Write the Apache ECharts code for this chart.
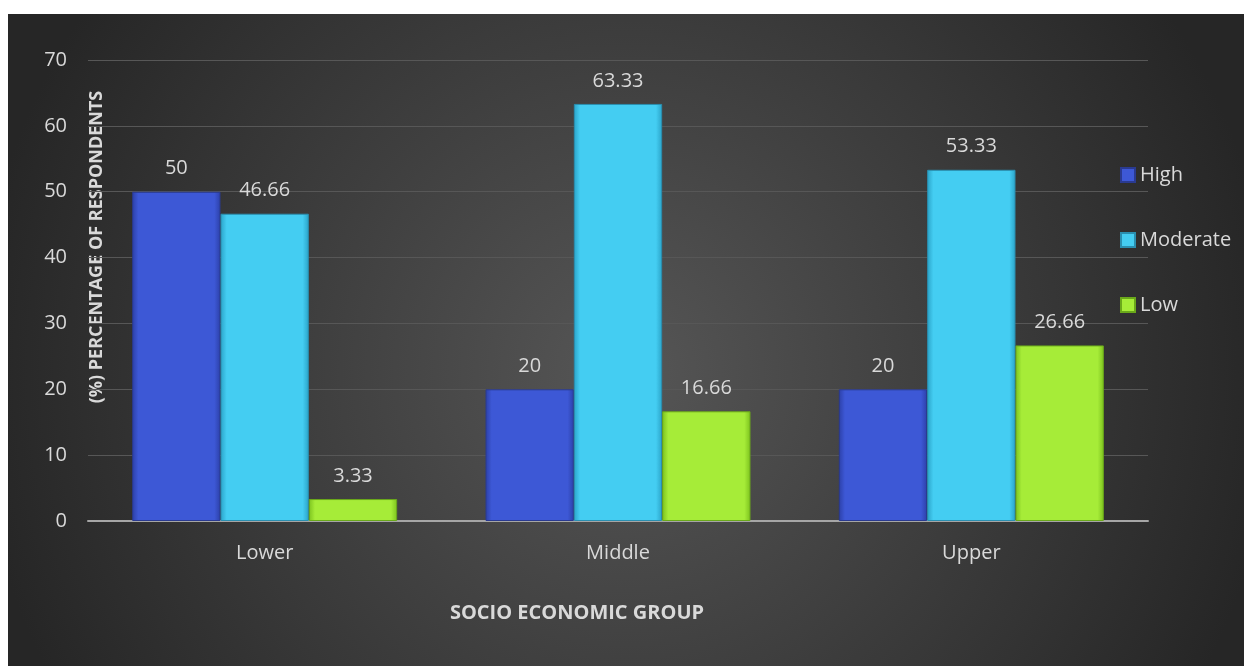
<!DOCTYPE html>
<html>
<head>
<meta charset="utf-8">
<script src="https://cdn.jsdelivr.net/npm/echarts@6/dist/echarts.min.js"></script>
<style>
    html, body { margin: 0; padding: 0; background: #fff; }
    #chart { position: absolute; left: 8px; top: 14px; width: 1236px; height: 652px; }
</style>
</head>
<body>
<div id="chart"></div>
<script>
var categories = ['Lower', 'Middle', 'Upper'];
var highData = [50, 20, 20];
var moderateData = [46.66, 63.33, 53.33];
var lowData = [3.33, 16.66, 26.66];

var FONT = '"Open Sans", "DejaVu Sans", sans-serif';
var TEXT = '#d9d9d9';

// bevel-ish look: darker edges, flat middle
function barColor(edge, mid) {
    return new echarts.graphic.LinearGradient(0, 0, 1, 0, [
        { offset: 0, color: edge },
        { offset: 0.07, color: mid },
        { offset: 0.93, color: mid },
        { offset: 1, color: edge }
    ]);
}

function makeSeries(name, data, edge, mid, border) {
    return {
        name: name,
        type: 'bar',
        barGap: '0%',
        barCategoryGap: '25%',
        data: data,
        itemStyle: {
            color: barColor(edge, mid),
            borderColor: border,
            borderWidth: 1
        },
        label: {
            show: true,
            position: 'top',
            distance: 13,
            color: TEXT,
            fontSize: 20,
            fontFamily: FONT
        }
    };
}

var myChart = echarts.init(document.getElementById('chart'));

var option = {
    backgroundColor: new echarts.graphic.RadialGradient(0.5, 0.55, 1.0, [
        { offset: 0, color: '#565656' },
        { offset: 1, color: '#262626' }
    ]),
    animation: false,
    grid: {
        left: 80,
        right: 96,
        top: 46,
        bottom: 145
    },
    legend: {
        orient: 'vertical',
        left: 1107,
        top: 146,
        itemWidth: 14,
        itemHeight: 14,
        itemGap: 45,
        icon: 'rect',
        textStyle: {
            color: TEXT,
            fontSize: 20,
            fontFamily: FONT
        },
        data: ['High', 'Moderate', 'Low']
    },
    xAxis: {
        type: 'category',
        data: categories,
        axisTick: { show: false },
        axisLine: { lineStyle: { color: '#a6a6a6', width: 2 } },
        axisLabel: {
            color: TEXT,
            fontSize: 20,
            fontFamily: FONT,
            margin: 22
        }
    },
    yAxis: {
        type: 'value',
        min: 0,
        max: 70,
        interval: 10,
        axisLine: { show: false },
        axisTick: { show: false },
        axisLabel: {
            color: TEXT,
            fontSize: 20,
            fontFamily: FONT,
            margin: 21
        },
        splitLine: { lineStyle: { color: '#575757', width: 1 } }
    },
    graphic: [
        {
            type: 'text',
            x: 569,
            y: 599,
            style: {
                text: 'SOCIO ECONOMIC GROUP',
                fill: TEXT,
                font: 'bold 20px ' + FONT,
                textAlign: 'center',
                textVerticalAlign: 'middle'
            }
        },
        {
            type: 'text',
            x: 89,
            y: 233,
            rotation: Math.PI / 2,
            style: {
                text: '(%) PERCENTAGE OF RESPONDENTS',
                fill: TEXT,
                font: 'bold 18px ' + FONT,
                textAlign: 'center',
                textVerticalAlign: 'middle'
            }
        }
    ],
    series: [
        makeSeries('High', highData, '#2c40a8', '#3d58d6', '#2a3a90'),
        makeSeries('Moderate', moderateData, '#2aa3c8', '#44cdf2', '#2a8fb0'),
        makeSeries('Low', lowData, '#7cc21e', '#a6ec38', '#6aa81a')
    ]
};

myChart.setOption(option);
</script>
</body>
</html>
